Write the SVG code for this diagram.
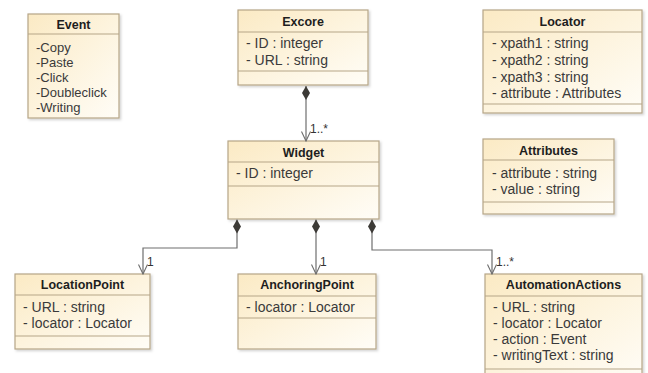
<svg xmlns="http://www.w3.org/2000/svg" width="648" height="373" viewBox="0 0 648 373">
<defs>
<linearGradient id="g" x1="0" y1="0" x2="1" y2="1">
<stop offset="0" stop-color="#fbeac4"/>
<stop offset="1" stop-color="#fffdf7"/>
</linearGradient>
<filter id="sh" x="-5%" y="-5%" width="115%" height="115%">
<feDropShadow dx="1.5" dy="1.5" stdDeviation="1" flood-color="#000" flood-opacity="0.18"/>
</filter>
<marker id="dia" markerUnits="userSpaceOnUse" markerWidth="16" markerHeight="10" refX="0" refY="5" viewBox="0 0 16 10" orient="auto">
<path d="M0,5 L7,1 L14,5 L7,9 Z" fill="#3c3a36"/>
</marker>
<marker id="arr" markerUnits="userSpaceOnUse" markerWidth="12" markerHeight="12" refX="11" refY="6" viewBox="0 0 12 12" orient="auto">
<path d="M1.5,1.5 L11,6 L1.5,10.5" fill="none" stroke="#6e6e6e" stroke-width="1.1"/>
</marker>
</defs>
<style>
.box{fill:url(#g);stroke:#b6a687;stroke-width:1.2;filter:url(#sh)}
.div{stroke:#b6a687;stroke-width:1.2}
.t{font-family:"Liberation Sans",Arial,sans-serif;font-weight:bold;font-size:12.5px;fill:#1e1e1e;text-anchor:middle}
.a{font-family:"Liberation Sans",Arial,sans-serif;font-size:14px;fill:#3a3a3a}
.e{font-family:"Liberation Sans",Arial,sans-serif;font-size:13px;fill:#3a3a3a}
.l{font-family:"Liberation Sans",Arial,sans-serif;font-size:12px;fill:#333}
.c{fill:none;stroke:#6e6e6e;stroke-width:1.2}
</style>
<rect width="648" height="373" fill="#ffffff"/>

<g id="Event">
<rect class="box" x="28" y="14" width="91" height="104"/>
<line class="div" x1="28" y1="34" x2="119" y2="34"/>
<text class="t" x="73.5" y="28.5">Event</text>
<text class="e" x="36" y="52">-Copy</text>
<text class="e" x="36" y="67">-Paste</text>
<text class="e" x="36" y="82">-Click</text>
<text class="e" x="36" y="97">-Doubleclick</text>
<text class="e" x="36" y="112">-Writing</text>
</g>

<g id="Excore">
<rect class="box" x="238" y="10" width="130" height="75"/>
<line class="div" x1="238" y1="32" x2="368" y2="32"/>
<line class="div" x1="238" y1="71" x2="368" y2="71"/>
<text class="t" x="303" y="25.5">Excore</text>
<text class="a" x="246" y="48">- ID : integer</text>
<text class="a" x="246" y="65">- URL : string</text>
</g>

<g id="Locator">
<rect class="box" x="483" y="10" width="159" height="103"/>
<line class="div" x1="483" y1="32" x2="642" y2="32"/>
<line class="div" x1="483" y1="104" x2="642" y2="104"/>
<text class="t" x="562.5" y="25.5">Locator</text>
<text class="a" x="492" y="48">- xpath1 : string</text>
<text class="a" x="492" y="65">- xpath2 : string</text>
<text class="a" x="492" y="82">- xpath3 : string</text>
<text class="a" x="492" y="98">- attribute : Attributes</text>
</g>

<g id="Attributes">
<rect class="box" x="483" y="139" width="131" height="75"/>
<line class="div" x1="483" y1="160" x2="614" y2="160"/>
<line class="div" x1="483" y1="202" x2="614" y2="202"/>
<text class="t" x="548.5" y="154.5">Attributes</text>
<text class="a" x="492" y="177.5">- attribute : string</text>
<text class="a" x="492" y="193.5">- value : string</text>
</g>

<g id="Widget">
<rect class="box" x="228" y="141" width="151" height="78"/>
<line class="div" x1="228" y1="162" x2="379" y2="162"/>
<line class="div" x1="228" y1="186" x2="379" y2="186"/>
<text class="t" x="303.5" y="156.5">Widget</text>
<text class="a" x="236" y="178">- ID : integer</text>
</g>

<g id="LocationPoint">
<rect class="box" x="15" y="274" width="135" height="75"/>
<line class="div" x1="15" y1="295" x2="150" y2="295"/>
<line class="div" x1="15" y1="336" x2="150" y2="336"/>
<text class="t" x="82.5" y="288.5">LocationPoint</text>
<text class="a" x="23" y="312">- URL : string</text>
<text class="a" x="23" y="328">- locator : Locator</text>
</g>

<g id="AnchoringPoint">
<rect class="box" x="238" y="274" width="138" height="75"/>
<line class="div" x1="238" y1="296" x2="376" y2="296"/>
<line class="div" x1="238" y1="318" x2="376" y2="318"/>
<text class="t" x="307" y="288.5">AnchoringPoint</text>
<text class="a" x="246" y="312">- locator : Locator</text>
</g>

<g id="AutomationActions">
<rect class="box" x="485" y="274" width="157" height="110"/>
<line class="div" x1="485" y1="296" x2="642" y2="296"/>
<line class="div" x1="485" y1="369" x2="642" y2="369"/>
<text class="t" x="563.5" y="288.5">AutomationActions</text>
<text class="a" x="493" y="312">- URL : string</text>
<text class="a" x="493" y="328">- locator : Locator</text>
<text class="a" x="493" y="344">- action : Event</text>
<text class="a" x="493" y="360">- writingText : string</text>
</g>

<g id="connectors">
<path class="c" d="M306,86 L306,141" marker-start="url(#dia)" marker-end="url(#arr)"/>
<path class="c" d="M237,219.5 L237,248 L143,248 L143,274" marker-start="url(#dia)" marker-end="url(#arr)"/>
<path class="c" d="M316,219.5 L316,274" marker-start="url(#dia)" marker-end="url(#arr)"/>
<path class="c" d="M372,219.5 L372,250 L492,250 L492,274" marker-start="url(#dia)" marker-end="url(#arr)"/>
<text class="l" x="310" y="133">1..*</text>
<text class="l" x="147" y="266">1</text>
<text class="l" x="320" y="266">1</text>
<text class="l" x="496" y="266">1..*</text>
</g>
</svg>
